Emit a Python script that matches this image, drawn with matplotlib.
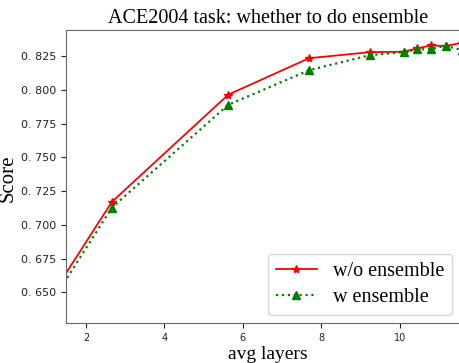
import matplotlib.pyplot as plt
from matplotlib.ticker import FuncFormatter

# avg layers vs score, ACE2004
layers = [1.2, 2.66, 5.63, 7.69, 9.25, 10.10, 10.45, 10.80, 11.17, 11.60]
score_wo = [0.651, 0.717, 0.7965, 0.8235, 0.828, 0.8283, 0.8308, 0.8330, 0.8325, 0.8350]
score_w = [0.646, 0.7128, 0.789, 0.8146, 0.8258, 0.8280, 0.8300, 0.8302, 0.8327, 0.8295]

serif = 'Liberation Serif'

fig = plt.figure(figsize=(4.59, 3.63), dpi=100)
ax = fig.add_axes([0.1445, 0.109, 0.88, 0.808])

ax.plot(layers, score_wo, color='red', marker='*', markersize=6,
        linestyle='-', linewidth=1.3, label='w/o ensemble')
ax.plot(layers, score_w, color='green', marker='^', markersize=6,
        linestyle=':', linewidth=1.6, label='w ensemble')

ax.set_xlim(1.5, 11.8)
ax.set_ylim(0.627, 0.8443)
ax.set_xticks([2, 4, 6, 8, 10])
ax.set_yticks([0.650, 0.675, 0.700, 0.725, 0.750, 0.775, 0.800, 0.825])
ax.yaxis.set_major_formatter(FuncFormatter(lambda v, p: f"{v:.3f}".replace('.', '. ')))
ax.tick_params(axis='y', labelsize=8, colors='#222222')
ax.tick_params(axis='x', labelsize=7, colors='#222222')
for s in ax.spines.values():
    s.set_color('#666666')

ax.set_title('ACE2004 task: whether to do ensemble', fontsize=14.5, family=serif, pad=5)
ax.set_xlabel('avg layers', fontsize=14, family=serif, labelpad=2)
ax.set_ylabel('Score', fontsize=15, family=serif)
ax.yaxis.set_label_coords(-0.121, 0.495)

ax.legend(loc='lower right', bbox_to_anchor=(0.955, 0.03), prop={'family': serif, 'size': 14.5},
          handlelength=2.0, borderpad=0.4, labelspacing=0.3, borderaxespad=0)

fig.savefig('out.png', dpi=100)
